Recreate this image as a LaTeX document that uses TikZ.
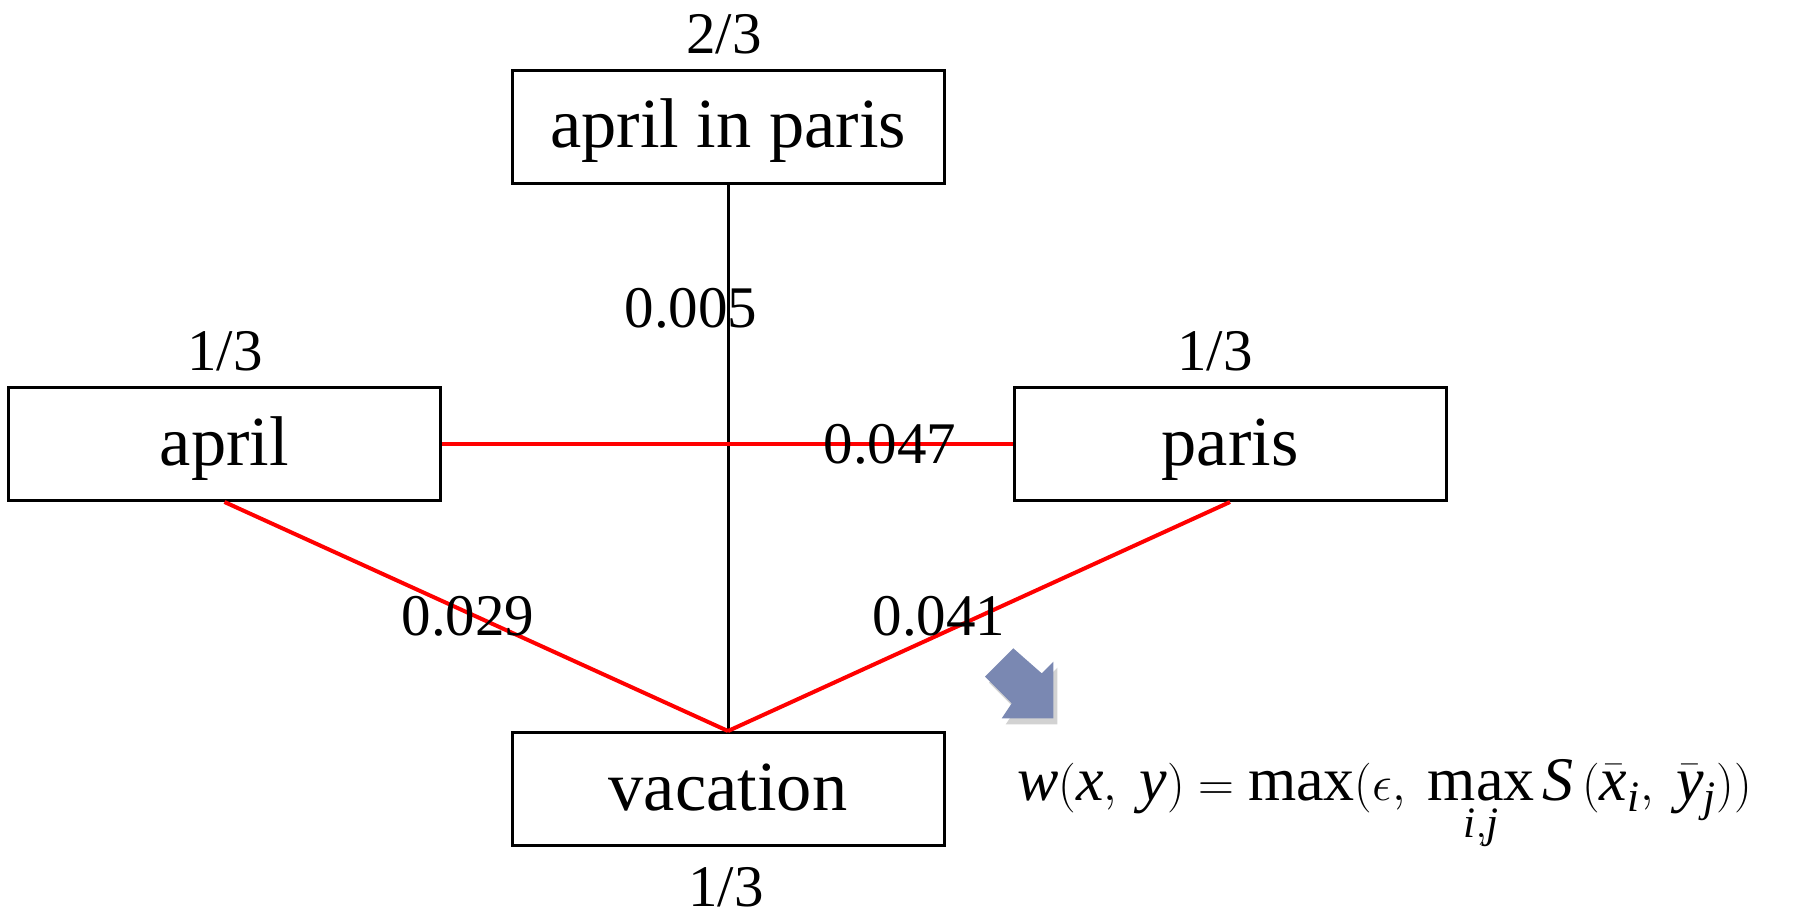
\documentclass[tikz,border=0pt]{standalone}
\usepackage{amsmath}
\usepackage{fontspec}
\setmainfont{Liberation Serif}
\usetikzlibrary{shadows}
\definecolor{arrowc}{HTML}{7A88B2}
\definecolor{redline}{HTML}{FF0000}
\tikzset{
  wordbox/.style={draw=black, line width=1.5pt, rectangle, minimum width=216pt, minimum height=56.5pt, inner sep=0pt, text height=28pt, text depth=7pt, font=\fontsize{35.2}{40}\selectfont},
  weight/.style={anchor=base, inner sep=0pt, font=\fontsize{29.5}{34}\selectfont},
  redge/.style={draw=redline, line width=2pt},
  bedge/.style={draw=black, line width=1.5pt}
}
\begin{document}
\begin{tikzpicture}[x=0.5pt, y=-0.5pt]
\useasboundingbox (0,0) rectangle (1798,917);
\node[wordbox] (aip) at (728,126.5) {april in paris};
\node[wordbox] (apr) at (224.5,444) {april};
\node[wordbox] (par) at (1230,444) {paris};
\node[wordbox] (vac) at (728,789) {vacation};
\node[weight] (waip) at (724,53) {2/3};
\node[weight] (wapr) at (225,370) {1/3};
\node[weight] (wpar) at (1215,370) {1/3};
\node[weight] (wvac) at (726,906) {1/3};
\coordinate (vtop) at (vac.north);
\draw[bedge] (aip.south) -- (vtop);
\draw[redge] (apr.east) -- (par.west);
\draw[redge] (apr.south) -- (vtop);
\draw[redge] (par.south) -- (vtop);
\node[weight] (e1) at (691,327) {0.005};
\node[weight] (e2) at (890,463) {0.047};
\node[weight] (e3) at (468,635) {0.029};
\node[weight] (e4) at (939,635) {0.041};
\fill[arrowc, drop shadow={shadow xshift=2pt, shadow yshift=-3pt, opacity=0.25, fill=black!70}]
  (1013.3,648.3) -- (1041.7,673.3) -- (1053.3,661.7) -- (1053.3,718.3) -- (1001.7,718.3) -- (1011.7,703.3) -- (985,676.7) -- cycle;
\node[anchor=base west, inner sep=0pt, font=\fontsize{31}{34}\selectfont] (formula) at (1017,800)
  {$\mathit{w}(\mathit{x},\;\mathit{y})=\max(\epsilon,\;\max\limits_{\mathit{i,j}}\mathit{S}\,(\bar{\mathit{x}}_{\mathit{i}},\;\bar{\mathit{y}}_{\mathit{j}}))$};
\end{tikzpicture}
\end{document}
